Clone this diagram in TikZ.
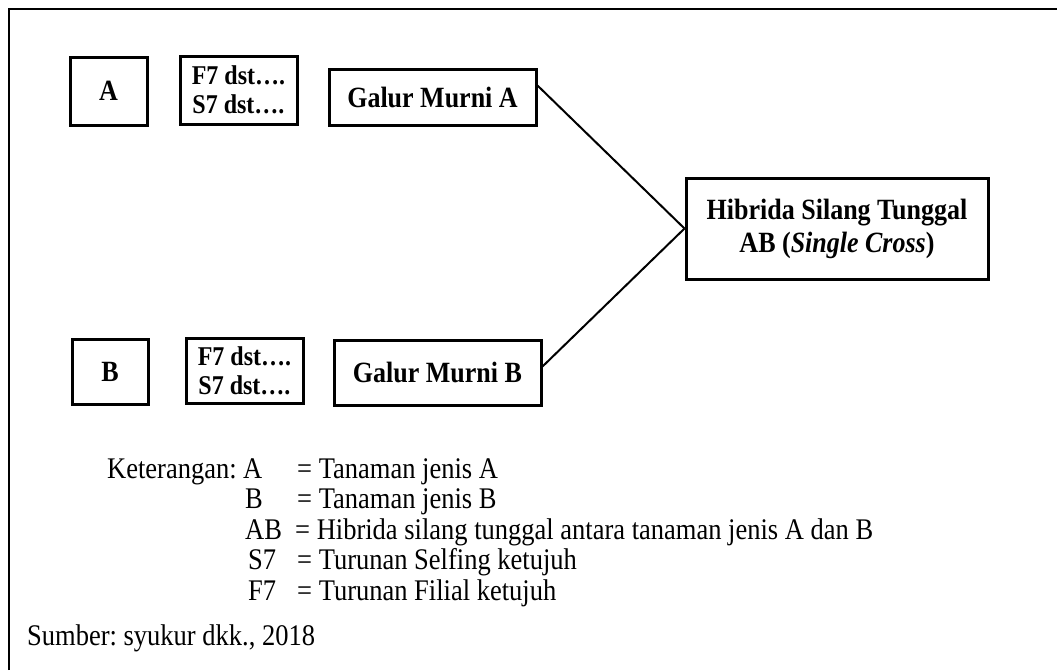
\documentclass[tikz,border=0pt]{standalone}
\usepackage{fontspec}
\usepackage{graphicx}
\setmainfont{Liberation Serif}
\usetikzlibrary{calc}
\frenchspacing
\newcommand{\tallt}[1]{\scalebox{1}[1.13]{#1}}
\begin{document}
\begin{tikzpicture}[x=1pt,y=-1pt,
  box/.style={draw,line width=3pt,inner sep=0pt,align=center,font=\fontsize{26}{33}\selectfont\bfseries},
  smallbox/.style={box,font=\fontsize{24}{29}\selectfont\bfseries},
  link/.style={line width=2pt},
  legend/.style={anchor=base west,inner sep=0pt,font=\fontsize{26.5}{30}\selectfont}]
\useasboundingbox (0,0) rectangle (1057,670);
% frame
\draw[line width=2.7pt] (9,670) -- (9,9) -- (1057,9);
% top row
\node[box,minimum width=77pt,minimum height=68pt] (a) at (108.5,91) {\tallt{A}};
\node[smallbox,minimum width=117pt,minimum height=68pt] (fa) at (238.5,90) {\tallt{F7 dst….}\\\tallt{S7 dst….}};
\node[box,minimum width=207pt,minimum height=56pt] (galA) at (432.5,97) {\tallt{Galur Murni A}};
% bottom row
\node[box,minimum width=76pt,minimum height=65pt] (b) at (110,371.5) {\tallt{B}};
\node[smallbox,minimum width=117pt,minimum height=65pt] (fb) at (244.5,370.5) {\tallt{F7 dst….}\\\tallt{S7 dst….}};
\node[box,minimum width=207pt,minimum height=65pt] (galB) at (437.5,372.5) {\tallt{Galur Murni B}};
% hybrid
\node[box,minimum width=302pt,minimum height=101pt] (hib) at (837,228.5) {\tallt{Hibrida Silang Tunggal}\\\tallt{AB (\textit{Single Cross})}};
% connectors
\coordinate (ga) at ($(galA.north east)+(0,18)$);
\coordinate (gb) at ($(galB.north east)+(0,28)$);
\draw[link] (ga) -- (hib.west);
\draw[link] (gb) -- (hib.west);
% legend
\node[legend] (k0) at (107,478) {\tallt{Keterangan:}};
\node[legend] (s1) at (243,478) {\tallt{A}};
\node[legend] (d1) at (297,478) {\tallt{= Tanaman jenis A}};
\node[legend] (s2) at (245,508.5) {\tallt{B}};
\node[legend] (d2) at (297,508.5) {\tallt{= Tanaman jenis B}};
\node[legend] (s3) at (245,539) {\tallt{AB}};
\node[legend] (d3) at (295,539) {\tallt{= Hibrida silang tunggal antara tanaman jenis A dan B}};
\node[legend] (s4) at (248,569.5) {\tallt{S7}};
\node[legend] (d4) at (297,569.5) {\tallt{= Turunan Selfing ketujuh}};
\node[legend] (s5) at (248,600) {\tallt{F7}};
\node[legend] (d5) at (297,600) {\tallt{= Turunan Filial ketujuh}};
\node[legend] (src) at (27,645) {\tallt{Sumber: syukur dkk., 2018}};
\end{tikzpicture}
\end{document}
